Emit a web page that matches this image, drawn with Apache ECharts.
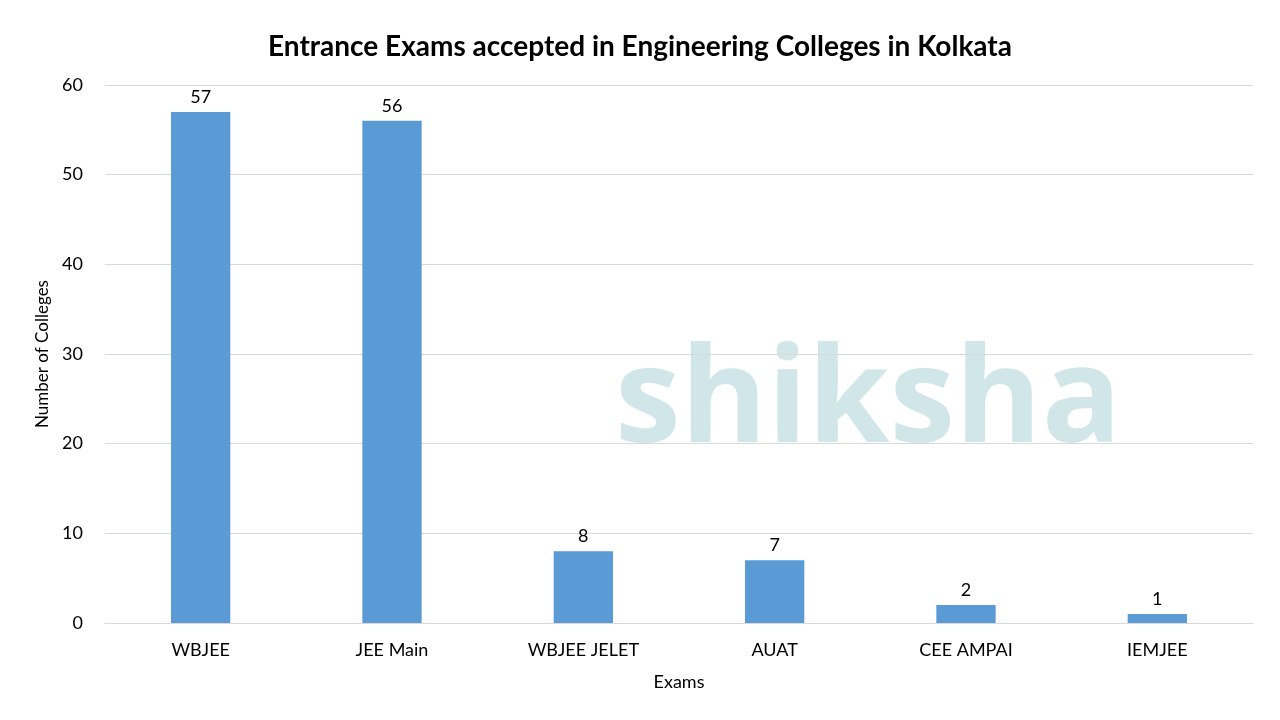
<!DOCTYPE html>
<html><head><meta charset="utf-8">
<script src="https://cdn.jsdelivr.net/npm/echarts@6/dist/echarts.min.js"></script>
<style>html,body{margin:0;padding:0;background:#fff}#c{width:1280px;height:720px}</style>
</head><body><div id="c"></div>
<script>
const categories = ['WBJEE','JEE Main','WBJEE JELET','AUAT','CEE AMPAI','IEMJEE'];
const values = [57,56,8,7,2,1];
const chart = echarts.init(document.getElementById('c'));
const F = 'Lato, "Open Sans", sans-serif';
chart.setOption({
  animation:false,
  title:{text:'Entrance Exams accepted in Engineering Colleges in Kolkata',left:'center',top:28,
    textStyle:{fontFamily:F,fontSize:28,fontWeight:'bold',color:'#000'}},
  graphic:[{type:'text',left:615,top:338,z:-10,style:{text:'shiksha',fontFamily:'"Open Sans", sans-serif',fontSize:132,fontWeight:'bold',fill:'rgba(150,200,205,0.45)'}}],
  grid:{left:105,right:27,top:85,bottom:97},
  xAxis:{type:'category',data:categories,name:'Exams',nameLocation:'middle',nameGap:50,
    nameTextStyle:{fontFamily:F,fontSize:18,color:'#000'},
    axisTick:{show:false},axisLine:{lineStyle:{color:'#d9d9d9'}},
    axisLabel:{fontFamily:F,fontSize:18,color:'#000',margin:18}},
  yAxis:{type:'value',min:0,max:60,interval:10,name:'Number of Colleges',nameLocation:'middle',nameGap:52,
    nameTextStyle:{fontFamily:F,fontSize:17,color:'#000'},
    axisLabel:{fontFamily:F,fontSize:18,color:'#000',margin:22},
    splitLine:{lineStyle:{color:'#d9d9d9'}}},
  series:[{type:'bar',data:values,barWidth:'31%',itemStyle:{color:'#5b9bd5'},
    label:{show:true,position:'top',fontFamily:F,fontSize:18,color:'#000',distance:6}}]
});
</script></body></html>
